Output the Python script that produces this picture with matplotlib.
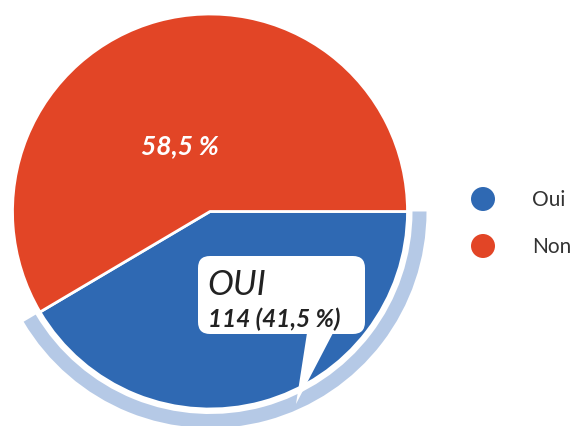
import matplotlib
matplotlib.use("Agg")
import matplotlib.pyplot as plt
from matplotlib.patches import Wedge, FancyBboxPatch, Polygon, Circle

labels = ["Oui", "Non"]
counts = [114, 161]
percents = [41.5, 58.5]
colors = ["#2F69B3", "#E24526"]
halo_color = "#B5C9E6"

W, H = 586, 427
fig = plt.figure(figsize=(W / 100, H / 100), dpi=100)
ax = fig.add_axes([0, 0, 1, 1])

cx, cy, r = 210, H - 212.5, 197.5
wedges, _ = ax.pie(percents, colors=colors, startangle=0, counterclock=False,
                   center=(cx, cy), radius=r, frame=True,
                   wedgeprops=dict(edgecolor="white", linewidth=2, joinstyle="round"))
ax.set_xlim(0, W)
ax.set_ylim(0, H)
ax.set_aspect("equal")
ax.axis("off")

# halo around the hovered "Oui" slice
end_angle = -360 * percents[0] / 100
ax.add_patch(Wedge((cx, cy), r + 19, end_angle, 0, width=14,
                   facecolor=halo_color, edgecolor="none", zorder=0.5))

# data label on Non
ax.text(180, H - 146, "58,5 %", color="white", fontsize=19, fontweight="bold",
        fontstyle="italic", family="Lato", ha="center", va="center")

# tooltip
bx0, bx1, by0, by1 = 198, 365, H - 335, H - 257
box = FancyBboxPatch((bx0 + 12, by0 + 12), bx1 - bx0 - 24, by1 - by0 - 24,
                     boxstyle="round,pad=12", facecolor="white", edgecolor="none", zorder=5)
ax.add_patch(box)
ax.add_patch(Polygon([(307, by0 + 1), (333, by0 + 1), (296, H - 405)], closed=True,
                     facecolor="white", edgecolor="none", zorder=5))
ax.text(207, H - 285, labels[0].upper(), fontsize=25, fontstyle="italic", family="Lato",
        color="#222222", ha="left", va="center", zorder=6)
ax.text(208, H - 319, f"{counts[0]} (41,5 %)", fontsize=17.5, fontstyle="italic",
        fontweight="bold", family="Lato", color="#222222", ha="left", va="center", zorder=6)

# legend
for i, (lab, col) in enumerate(zip(labels, colors)):
    y = H - (200 + 47 * i)
    ax.add_patch(Circle((483, y), 12, facecolor=col, edgecolor="none"))
    ax.text(532, y, lab, fontsize=15, family="Lato", color="#333333", ha="left", va="center")

fig.savefig("out.png", dpi=100)
